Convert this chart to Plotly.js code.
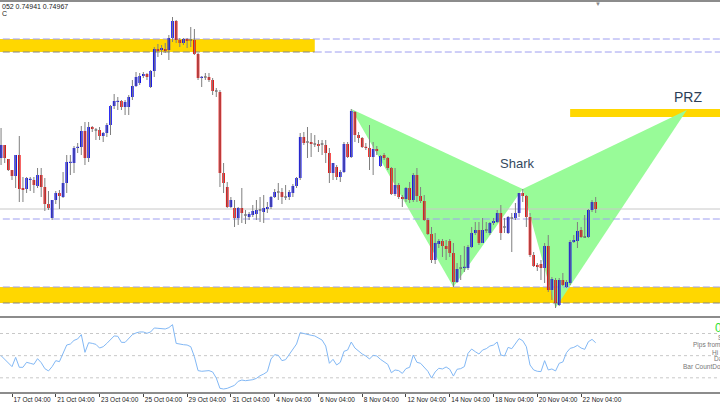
<!DOCTYPE html>
<html><head><meta charset="utf-8">
<script src="https://cdn.plot.ly/plotly-3.0.1.min.js"></script>
<style>html,body{margin:0;padding:0;background:#fff;overflow:hidden}#chart{width:720px;height:405px}</style>
</head><body><div id="chart"></div>
<script>
// ---- candle data (4H bars) ----
const open = [.7542,.7555,.7541,.7530,.7524,.7545,.7512,.7511,.7520,.7520,
.7514,.7525,.7513,.7496,.7482,.7500,.7507,.7503,.7517,.7537,
.7537,.7552,.7553,.7569,.7542,.7573,.7570,.7570,.7564,.7567,
.7575,.7594,.7598,.7599,.7593,.7593,.7603,.7614,.7617,.7624,
.7626,.7613,.7629,.7651,.7650,.7651,.7650,.7662,.7679,.7660,
.7657,.7661,.7660,.7660,.7646,.7622,.7623,.7623,.7620,.7609,
.7608,.7527,.7513,.7493,.7492,.7482,.7492,.7485,.7483,.7485,
.7486,.7490,.7488,.7491,.7493,.7503,.7508,.7508,.7503,.7503,
.7507,.7514,.7522,.7563,.7558,.7558,.7556,.7556,.7556,.7555,
.7547,.7527,.7533,.7523,.7528,.7556,.7543,.7588,.7565,.7562,
.7553,.7552,.7543,.7551,.7534,.7545,.7542,.7532,.7506,.7515,
.7503,.7501,.7512,.7500,.7525,.7504,.7499,.7480,.7466,.7440,
.7456,.7459,.7454,.7459,.7447,.7418,.7432,.7432,.7432,.7453,
.7467,.7470,.7457,.7470,.7467,.7477,.7478,.7487,.7473,.7467,
.7482,.7482,.7487,.7507,.7504,.7483,.7445,.7435,.7436,.7432,
.7454,.7410,.7420,.7395,.7420,.7413,.7417,.7458,.7459,.7470,
.7463,.7463,.7490,.7498];
const high = [.7572,.7555,.7541,.7530,.7545,.7564,.7523,.7523,.7523,.7523,
.7532,.7532,.7522,.7509,.7500,.7509,.7510,.7528,.7545,.7545,
.7554,.7557,.7574,.7578,.7578,.7574,.7572,.7573,.7568,.7577,
.7595,.7606,.7603,.7600,.7600,.7605,.7620,.7628,.7627,.7628,
.7627,.7630,.7653,.7656,.7655,.7657,.7665,.7683,.7680,.7662,
.7662,.7662,.7673,.7671,.7647,.7624,.7627,.7627,.7622,.7612,
.7610,.7537,.7518,.7503,.7500,.7493,.7512,.7490,.7488,.7495,
.7500,.7503,.7505,.7498,.7504,.7511,.7517,.7512,.7515,.7510,
.7516,.7523,.7567,.7568,.7573,.7567,.7565,.7560,.7560,.7560,
.7552,.7537,.7535,.7530,.7558,.7558,.7591,.7589,.7568,.7563,
.7557,.7575,.7558,.7554,.7545,.7547,.7543,.7533,.7532,.7517,
.7505,.7513,.7518,.7527,.7532,.7513,.7505,.7482,.7473,.7467,
.7461,.7461,.7460,.7461,.7457,.7437,.7445,.7454,.7455,.7473,
.7478,.7478,.7482,.7478,.7478,.7482,.7490,.7495,.7482,.7484,
.7487,.7497,.7507,.7511,.7505,.7487,.7448,.7437,.7440,.7457,
.7465,.7423,.7422,.7422,.7427,.7420,.7460,.7465,.7478,.7473,
.7485,.7491,.7500,.7503];
const low = [.7535,.7537,.7529,.7520,.7512,.7498,.7498,.7507,.7509,.7507,
.7512,.7503,.7489,.7490,.7480,.7496,.7491,.7502,.7507,.7525,
.7527,.7547,.7545,.7535,.7538,.7568,.7560,.7560,.7558,.7563,
.7565,.7591,.7590,.7590,.7585,.7585,.7600,.7613,.7615,.7622,
.7620,.7612,.7623,.7643,.7645,.7647,.7640,.7658,.7657,.7653,
.7655,.7652,.7653,.7645,.7620,.7613,.7620,.7618,.7605,.7603,
.7513,.7507,.7492,.7492,.7473,.7475,.7477,.7476,.7480,.7483,
.7480,.7478,.7477,.7487,.7491,.7502,.7500,.7496,.7500,.7500,
.7503,.7512,.7520,.7555,.7542,.7543,.7553,.7548,.7545,.7537,
.7517,.7520,.7520,.7518,.7527,.7542,.7542,.7558,.7557,.7552,
.7550,.7530,.7525,.7545,.7533,.7540,.7530,.7505,.7504,.7501,
.7493,.7498,.7497,.7498,.7498,.7497,.7479,.7465,.7437,.7436,
.7452,.7443,.7440,.7443,.7413,.7417,.7420,.7428,.7430,.7452,
.7465,.7455,.7457,.7467,.7465,.7475,.7477,.7460,.7467,.7466,
.7448,.7480,.7483,.7498,.7473,.7443,.7433,.7429,.7420,.7417,
.7408,.7400,.7392,.7394,.7414,.7412,.7415,.7457,.7452,.7462,
.7462,.7462,.7488,.7487];
const close = [.7555,.7542,.7530,.7524,.7545,.7511,.7510,.7522,.7521,.7515,
.7525,.7513,.7496,.7492,.7500,.7507,.7504,.7517,.7538,.7538,
.7552,.7553,.7569,.7542,.7573,.7571,.7570,.7564,.7567,.7575,
.7594,.7599,.7599,.7593,.7598,.7603,.7614,.7623,.7624,.7626,
.7623,.7629,.7651,.7649,.7652,.7649,.7662,.7679,.7660,.7657,
.7661,.7659,.7660,.7646,.7622,.7623,.7623,.7620,.7609,.7609,
.7527,.7517,.7493,.7500,.7482,.7492,.7487,.7485,.7486,.7489,
.7490,.7490,.7492,.7493,.7503,.7508,.7508,.7503,.7503,.7508,
.7514,.7522,.7563,.7557,.7558,.7556,.7556,.7554,.7556,.7547,
.7527,.7537,.7523,.7528,.7556,.7543,.7589,.7565,.7562,.7553,
.7552,.7543,.7551,.7549,.7544,.7542,.7532,.7506,.7515,.7503,
.7501,.7512,.7500,.7525,.7504,.7499,.7480,.7466,.7440,.7457,
.7459,.7454,.7451,.7447,.7418,.7431,.7432,.7433,.7453,.7467,
.7470,.7457,.7470,.7470,.7477,.7479,.7487,.7467,.7473,.7483,
.7482,.7487,.7507,.7504,.7483,.7445,.7434,.7433,.7432,.7454,
.7410,.7421,.7397,.7420,.7415,.7418,.7458,.7460,.7469,.7463,
.7463,.7490,.7498,.7491];

// ---- oscillator (lower panel) ----
const osc = [50.0,47.0,43.1,40.1,48.5,39.5,39.5,44.0,43.1,42.2,
47.3,43.7,38.3,36.2,40.1,45.5,44.6,52.1,59.6,60.5,
63.8,65.1,69.0,53.0,61.7,61.1,60.2,56.9,58.1,61.1,
64.7,67.8,67.5,62.0,62.0,66.0,69.0,70.5,71.4,71.4,
70.2,71.4,75.0,74.7,74.7,74.1,75.3,78.0,61.1,60.2,
59.9,59.6,58.1,49.1,36.5,35.9,36.5,36.5,35.3,29.8,
20.5,19.9,20.5,21.7,23.2,26.8,28.0,27.4,27.7,28.3,
29.5,31.9,33.4,35.6,47.0,50.9,50.3,45.5,46.4,50.9,
55.7,60.5,70.8,69.9,68.7,68.4,67.8,66.0,64.1,58.7,
43.1,46.7,41.6,44.0,53.9,55.1,62.3,56.9,53.9,51.5,
49.7,47.0,50.3,49.7,46.7,44.6,42.2,34.6,37.1,36.5,
34.0,38.3,39.5,50.6,44.0,43.1,39.5,35.9,29.8,35.3,
38.6,38.0,39.8,37.7,31.6,37.7,38.3,40.1,52.1,56.0,
53.6,51.5,55.1,56.3,58.7,59.6,62.3,50.6,49.7,57.5,
56.3,61.1,65.4,63.5,58.1,41.6,37.1,35.9,35.6,45.5,
37.1,38.0,36.2,43.1,44.3,52.7,56.6,57.5,59.3,56.9,
55.7,62.6,64.7,61.7];
const oscLevels = [30, 50, 70];

// ---- x axis ticks (bar index -> label) ----
const tickIdx = [3,15,27,39,51,63,75,87,99,111,123,135,147,159];
const tickText = ['17 Oct 04:00','21 Oct 04:00','23 Oct 04:00','25 Oct 04:00','29 Oct 04:00','31 Oct 04:00','4 Nov 04:00','6 Nov 04:00','8 Nov 04:00','12 Nov 04:00','14 Nov 04:00','18 Nov 04:00','20 Nov 04:00','22 Nov 04:00'];

// ---- zones / levels ----
const supplyZone = {y0: 0.7648, y1: 0.7661, endIdx: 86};
const demandZone = {y0: 0.7397, y1: 0.7413};
const przZone = {y0: 0.7583, y1: 0.7591, startIdx: 156};
const dashLevel = 0.7481;

// ---- Shark pattern points X, A, B, C, D ----
const patIdx = [96, 124, 143, 152, 188];
const patPrice = [0.7591, 0.7413, 0.7511, 0.7392, 0.7590];
const patternName = 'Shark';
const przLabel = 'PRZ';

// ---- info panel text ----
const infoLabels = ['Spread', 'Pips from Open', 'Hi to Lo', 'Daily Av', 'Bar CountDown'];
const infoValue = '0';
const headerText = '052 0.74941 0.74967';

const n = open.length;
const idx = open.map((_, i) => i);
const FONT = 'Liberation Sans, Arial, sans-serif';
const X0 = -0.29, X1 = 197.08;

const wx = [], wy = [];
for (let i = 0; i < n; i++) { wx.push(i, i, null); wy.push(high[i], low[i], null); }
const bodyBase = idx.map(i => close[i] === open[i] ? open[i] - 0.00006 : Math.min(open[i], close[i]));
const bodyH = idx.map(i => Math.max(Math.abs(close[i] - open[i]), 0.00012));
const bodyCol = idx.map(i => close[i] > open[i] ? '#0000f0' : (close[i] < open[i] ? '#f00000' : '#444444'));

const traces = [
  {type:'scatter', mode:'lines', x:wx, y:wy, xaxis:'x', yaxis:'y', line:{color:'#7f7f7f', width:1}, hoverinfo:'skip', showlegend:false},
  {type:'bar', x:idx, y:bodyH, base:bodyBase, width:0.72, xaxis:'x', yaxis:'y',
   marker:{color:bodyCol, line:{width:0}}, hoverinfo:'skip', showlegend:false},
  {type:'scatter', mode:'lines', x:idx, y:osc, xaxis:'x', yaxis:'y2', line:{color:'#82b8f5', width:1}, hoverinfo:'skip', showlegend:false}
];

const DASH = '7px,3px';
const shapes = [];
shapes.push({type:'rect', xref:'x', yref:'y', x0:-5, x1:supplyZone.endIdx, y0:supplyZone.y0, y1:supplyZone.y1, fillcolor:'#ffd700', line:{width:0}, layer:'below'});
shapes.push({type:'rect', xref:'x', yref:'y', x0:-5, x1:260, y0:demandZone.y0, y1:demandZone.y1, fillcolor:'#ffd700', line:{width:0}, layer:'below'});
shapes.push({type:'rect', xref:'x', yref:'y', x0:przZone.startIdx, x1:260, y0:przZone.y0, y1:przZone.y1, fillcolor:'#ffd700', line:{width:0}, layer:'below'});
const tri = (a,b,c) => `M${patIdx[a]},${patPrice[a]}L${patIdx[b]},${patPrice[b]}L${patIdx[c]},${patPrice[c]}Z`;
shapes.push({type:'path', xref:'x', yref:'y', path:tri(0,1,2), fillcolor:'#98fb98', line:{width:0}, layer:'below'});
shapes.push({type:'path', xref:'x', yref:'y', path:tri(2,3,4), fillcolor:'#98fb98', line:{width:0}, layer:'below'});
const hl = (y, x0, x1, color, dash, w) => ({type:'line', xref:'x', yref:'y', x0:x0, x1:x1, y0:y, y1:y, line:{color:color, width:w||1, dash:dash}, layer:'below'});
shapes.push(hl(supplyZone.y1, -5, 260, '#9e9ef0', DASH));
shapes.push(hl(supplyZone.y0, -5, supplyZone.endIdx, '#858585', DASH));
shapes.push(hl(supplyZone.y0, supplyZone.endIdx, 260, '#9e9ef0', DASH));
shapes.push(hl(demandZone.y1, -5, 260, '#9e9ef0', DASH));
shapes.push(hl(demandZone.y0, -5, 260, '#858585', DASH));
shapes.push(hl(dashLevel, -5, 260, '#9e9ef0', DASH));
shapes.push(hl(close[n-1], -5, 260, '#c8c8c8', 'solid'));
oscLevels.forEach(v => shapes.push({type:'line', xref:'paper', yref:'y2', x0:0, x1:1, y0:v, y1:v, line:{color:'#c8c8c8', width:1, dash:'dot'}, layer:'below'}));
const py = y => 1 - y / 405, px = x => x / 720;
shapes.push({type:'line', xref:'paper', yref:'paper', x0:0, x1:1, y0:py(1), y1:py(1), line:{color:'#8c8c8c', width:2}});
shapes.push({type:'line', xref:'paper', yref:'paper', x0:0, x1:1, y0:py(317), y1:py(317), line:{color:'#8c8c8c', width:2}});

const annotations = [
  {xref:'x', yref:'y', x:141.4, y:0.7537, text:patternName, showarrow:false, font:{family:FONT, size:13, color:'#34495e'}},
  {xref:'x', yref:'y', x:188.2, y:0.7603, text:przLabel, showarrow:false, font:{family:FONT, size:14, color:'#2c3e57'}},
  {xref:'paper', yref:'paper', x:px(0), y:py(6), xanchor:'left', yanchor:'middle', text:headerText, showarrow:false, font:{family:FONT, size:7, color:'#222'}},
  {xref:'paper', yref:'paper', x:px(0), y:py(13), xanchor:'left', yanchor:'middle', text:'C', showarrow:false, font:{family:FONT, size:7, color:'#222'}},
  {xref:'paper', yref:'paper', x:px(598), y:py(4), xanchor:'center', yanchor:'middle', text:'▼', showarrow:false, font:{family:FONT, size:6, color:'#888'}},
  {xref:'paper', yref:'paper', x:px(712.5), y:py(328), xanchor:'left', yanchor:'middle', text:infoValue, showarrow:false, font:{family:FONT, size:12, color:'#33e033'}}
];
const infoPos = [[717,338],[692,345],[711,352],[713,359],[682,366]];
infoLabels.forEach((t,k) => annotations.push({xref:'paper', yref:'paper', x:px(infoPos[k][0]), y:py(infoPos[k][1]), xanchor:'left', yanchor:'middle', text:t, showarrow:false, borderpad:0, font:{family:FONT, size:6.5, color:'#777'}}));

const layout = {
  width:720, height:405, margin:{l:0, r:0, t:0, b:0}, paper_bgcolor:'#fff', plot_bgcolor:'#fff',
  showlegend:false, dragmode:false,
  xaxis:{range:[X0, X1], domain:[0,1], anchor:'y2', tickmode:'array', tickvals:tickIdx, ticktext:tickText,
    tickangle:0, ticks:'outside', ticklen:3, tickcolor:'#444', tickwidth:1, ticklabelposition:'outside right',
    tickfont:{family:FONT, size:6.5, color:'#222'}, showgrid:false, zeroline:false,
    showline:true, linecolor:'#8c8c8c', linewidth:2, fixedrange:true},
  yaxis:{domain:[py(315), py(2)], range:[0.7385, 0.7698], visible:false, showgrid:false, zeroline:false, fixedrange:true},
  yaxis2:{domain:[py(392), py(319)], range:[17.2, 83.1], visible:false, showgrid:false, zeroline:false, fixedrange:true},
  shapes:shapes, annotations:annotations
};
Plotly.newPlot('chart', traces, layout, {staticPlot:true, displayModeBar:false});
</script></body></html>
